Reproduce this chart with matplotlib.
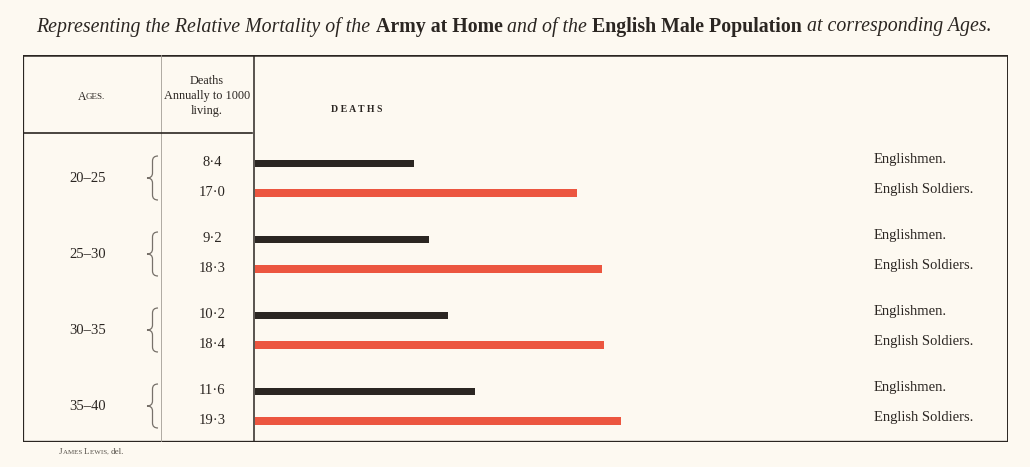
import matplotlib.pyplot as plt
from matplotlib.path import Path
from matplotlib.patches import PathPatch
from matplotlib.transforms import blended_transform_factory

# ---------------- data ----------------
age_groups = ['20–25', '25–30', '30–35', '35–40']
englishmen = [8.4, 9.2, 10.2, 11.6]
soldiers = [17.0, 18.3, 18.4, 19.3]
row_labels = ['Englishmen.', 'English Soldiers.']

# ---------------- style ----------------
W, H = 1030, 467
bg = '#fdf9f1'
ink = '#2b2622'
red = '#ec5640'
serif = ['Liberation Serif', 'DejaVu Serif']

fig = plt.figure(figsize=(W / 100, H / 100), dpi=100, facecolor=bg)


def fx(px):
    return px / W


def fy(py):
    return 1 - py / H


# frame in pixels
L, R, T, B = 23, 1008, 55, 442
XAX = 254  # left edge of the bar area

# background axes for the table frame
frame = fig.add_axes([fx(L), fy(B), fx(R) - fx(L), fy(T) - fy(B)])
frame.set_xlim(L, R)
frame.set_ylim(B, T)
frame.axis('off')
frame.patch.set_alpha(0)
frame.plot([L, R], [T, T], color=ink, lw=1.8, solid_capstyle='butt')
frame.plot([L, R], [B, B], color=ink, lw=2.4, solid_capstyle='butt')
frame.plot([L, L], [T, B], color=ink, lw=1.6, solid_capstyle='butt')
frame.plot([R, R], [T, B], color=ink, lw=1.4, solid_capstyle='butt')
frame.plot([161, 161], [T, B], color='#a39d95', lw=0.6)
frame.plot([XAX, XAX], [T, B], color=ink, lw=1.1)
frame.plot([L, 252], [133, 133], color=ink, lw=1.2)

# bar axes: group spacing ~76 px, within group ~30 px
ax = fig.add_axes([fx(XAX), fy(B), fx(R) - fx(XAX), fy(T) - fy(B)])
ax.set_facecolor('none')
ax.set_xlim(0, (R - XAX) / 18.95)
ax.set_ylim(B - 163, T - 163)
for s in ax.spines.values():
    s.set_visible(False)
ax.set_xticks([])
ax.set_yticks([])

gap_group, gap_inner = 76, 30
y_men = [i * gap_group for i in range(len(age_groups))]
y_sol = [y + gap_inner for y in y_men]
ax.barh(y_men, englishmen, height=7, color=ink, left=0.05)
ax.barh(y_sol, soldiers, height=7.5, color=red, left=0.05)

# texts aligned with bar rows
tr = blended_transform_factory(fig.transFigure, ax.transData)
tr_brace = blended_transform_factory(frame.transData, ax.transData)


def brace(ym, h, x0=147, x1=152.5, x2=158, r=5):
    verts = [(x2, ym - h), (x1, ym - h), (x1, ym - h + r),
             (x1, ym - r), (x1, ym), (x0, ym),
             (x1, ym), (x1, ym + r),
             (x1, ym + h - r), (x1, ym + h), (x2, ym + h)]
    codes = [Path.MOVETO, Path.CURVE3, Path.CURVE3,
             Path.LINETO, Path.CURVE3, Path.CURVE3,
             Path.CURVE3, Path.CURVE3,
             Path.LINETO, Path.CURVE3, Path.CURVE3]
    return PathPatch(Path(verts, codes), fill=False, edgecolor='#77716a',
                     lw=0.9, transform=tr_brace, clip_on=False)


for g, lab in enumerate(age_groups):
    ym, ys = y_men[g], y_sol[g]
    mid = (ym + ys) / 2
    fig.text(fx(88), mid, lab, transform=tr, ha='center',
             va='center', fontsize=10.5, family=serif, color=ink)
    fig.add_artist(brace(mid, 22))
    fig.text(fx(212), ym, f'{englishmen[g]:.1f}'.replace('.', '·'),
             transform=tr, ha='center', va='center', fontsize=10.5,
             family=serif, color=ink)
    fig.text(fx(212), ys, f'{soldiers[g]:.1f}'.replace('.', '·'),
             transform=tr, ha='center', va='center', fontsize=10.5,
             family=serif, color=ink)
    fig.text(fx(874), ym - 3, row_labels[0], transform=tr, ha='left',
             va='center', fontsize=10.5, family=serif, color=ink)
    fig.text(fx(874), ys - 3, row_labels[1], transform=tr, ha='left',
             va='center', fontsize=10.5, family=serif, color=ink)

# header texts
fig.text(fx(86), fy(97), 'A', ha='right', va='center', fontsize=8.5,
         family=serif, color=ink)
fig.text(fx(86), fy(97), 'GES.', ha='left', va='center', fontsize=6.5,
         family=serif, color=ink)
fig.text(fx(207), fy(96), 'Deaths\nAnnually to 1000\nliving.', ha='center',
         va='center', fontsize=8.8, family=serif, color=ink, linespacing=1.3)
fig.text(fx(357), fy(110), 'D E A T H S', ha='center', va='center',
         fontsize=7, family=serif, color=ink, fontweight='bold')

# title: mix of italic and bold pieces
pieces = [
    ('Representing the Relative Mortality of the ', 'italic', 'normal'),
    ('Army at Home ', 'normal', 'bold'),
    ('and of the ', 'italic', 'normal'),
    ('English Male Population ', 'normal', 'bold'),
    ('at corresponding Ages.', 'italic', 'normal'),
]
fig.canvas.draw()
renderer = fig.canvas.get_renderer()
texts = []
for s, style, weight in pieces:
    t = fig.text(0, fy(27), s, ha='left', va='center', fontsize=14.3,
                 family=serif, style=style, fontweight=weight, color=ink)
    texts.append(t)
widths = [t.get_window_extent(renderer).width for t in texts]
start = 514 - sum(widths) / 2
for t, w in zip(texts, widths):
    t.set_x(fx(start))
    start += w

# footer (small caps)
foot = [('J', 6.5), ('AMES ', 5), ('L', 6.5), ('EWIS, ', 5), ('del.', 6.5)]
fx0 = 59
ftexts = []
for s, size in foot:
    t = fig.text(0, fy(452), s, ha='left', va='center', fontsize=size,
                 family=serif, color='#555049')
    ftexts.append(t)
for t in ftexts:
    w = t.get_window_extent(renderer).width
    t.set_x(fx(fx0))
    fx0 += w + 0.3

fig.savefig('out.png', dpi=100, facecolor=bg)
